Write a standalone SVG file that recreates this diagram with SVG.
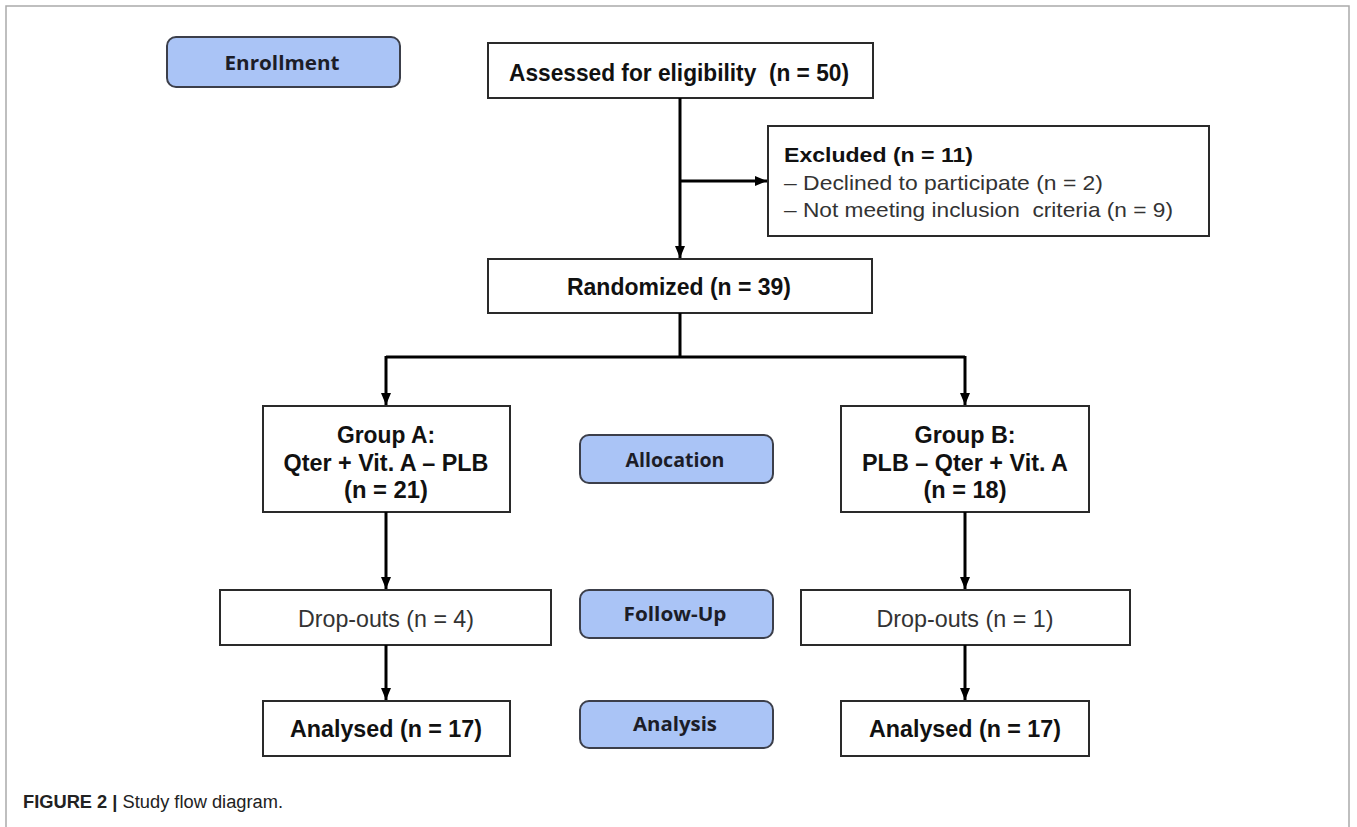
<svg xmlns="http://www.w3.org/2000/svg" width="1357" height="827" viewBox="0 0 1357 827">
<defs>
<style>
.box{fill:#fff;stroke:#2a2a2a;stroke-width:2}
.stage{fill:#aac4f6;stroke:#3c3f4a;stroke-width:2}
.t{font-family:"Liberation Sans",Arial,sans-serif;font-size:24px;fill:#111;text-anchor:middle}
.b{font-weight:bold}
.r{fill:#333}
.ex{font-size:21px;text-anchor:start}
.s{font-family:"Open Sans",Lato,"Liberation Sans",sans-serif;font-weight:bold;font-size:20px;fill:#1c1d28;text-anchor:middle}
.c{stroke:#000;stroke-width:3;fill:none}
</style>
<marker id="ah" viewBox="0 0 12 10" refX="12" refY="5" markerWidth="12" markerHeight="10" orient="auto" markerUnits="userSpaceOnUse">
<path d="M0,0 L12,5 L0,10 z" fill="#000"/>
</marker>
</defs>
<rect x="0" y="0" width="1357" height="827" fill="#fff"/>
<rect x="6" y="6" width="1343" height="840" fill="none" stroke="#aaa" stroke-width="1.5"/>

<g id="stage-enrollment"><rect class="stage" x="167" y="37" width="233" height="50" rx="9"/><text class="s" x="282" y="70" textLength="115" lengthAdjust="spacingAndGlyphs">Enrollment</text></g>
<g id="stage-allocation"><rect class="stage" x="580" y="435" width="193" height="48" rx="9"/><text class="s" x="675" y="467" textLength="99" lengthAdjust="spacingAndGlyphs">Allocation</text></g>
<g id="stage-followup"><rect class="stage" x="580" y="590" width="193" height="48" rx="9"/><text class="s" x="675" y="621" textLength="103" lengthAdjust="spacingAndGlyphs">Follow-Up</text></g>
<g id="stage-analysis"><rect class="stage" x="580" y="701" width="193" height="47" rx="9"/><text class="s" x="675" y="731" textLength="84" lengthAdjust="spacingAndGlyphs">Analysis</text></g>

<g id="assessed"><rect class="box" x="488" y="43" width="385" height="55"/><text class="t b" x="679" y="81" xml:space="preserve" textLength="340" lengthAdjust="spacingAndGlyphs">Assessed for eligibility  (n = 50)</text></g>
<g id="excluded"><rect class="box" x="768" y="126" width="441" height="110"/>
<text class="t b ex" x="784" y="162" textLength="189" lengthAdjust="spacingAndGlyphs">Excluded (n = 11)</text>
<text class="t r ex" x="784" y="190" textLength="319" lengthAdjust="spacingAndGlyphs">– Declined to participate (n = 2)</text>
<text class="t r ex" x="784" y="217" xml:space="preserve" textLength="389" lengthAdjust="spacingAndGlyphs">– Not meeting inclusion  criteria (n = 9)</text></g>
<g id="randomized"><rect class="box" x="488" y="259" width="384" height="54"/><text class="t b" x="679" y="295" textLength="224" lengthAdjust="spacingAndGlyphs">Randomized (n = 39)</text></g>
<g id="groupA"><rect class="box" x="263" y="406" width="247" height="106"/>
<text class="t b" x="386" y="443" textLength="98" lengthAdjust="spacingAndGlyphs">Group A:</text><text class="t b" x="386" y="471" textLength="205" lengthAdjust="spacingAndGlyphs">Qter + Vit. A – PLB</text><text class="t b" x="386" y="498" textLength="84" lengthAdjust="spacingAndGlyphs">(n = 21)</text></g>
<g id="groupB"><rect class="box" x="841" y="406" width="248" height="106"/>
<text class="t b" x="965" y="443" textLength="101" lengthAdjust="spacingAndGlyphs">Group B:</text><text class="t b" x="965" y="471" textLength="206" lengthAdjust="spacingAndGlyphs">PLB – Qter + Vit. A</text><text class="t b" x="965" y="498" textLength="83" lengthAdjust="spacingAndGlyphs">(n = 18)</text></g>
<g id="dropA"><rect class="box" x="220" y="590" width="331" height="55"/><text class="t r" x="386" y="627" textLength="176" lengthAdjust="spacingAndGlyphs">Drop-outs (n = 4)</text></g>
<g id="dropB"><rect class="box" x="801" y="590" width="329" height="55"/><text class="t r" x="965" y="627" textLength="177" lengthAdjust="spacingAndGlyphs">Drop-outs (n = 1)</text></g>
<g id="analysedA"><rect class="box" x="263" y="701" width="247" height="55"/><text class="t b" x="386" y="737" textLength="192" lengthAdjust="spacingAndGlyphs">Analysed (n = 17)</text></g>
<g id="analysedB"><rect class="box" x="841" y="701" width="248" height="55"/><text class="t b" x="965" y="737" textLength="192" lengthAdjust="spacingAndGlyphs">Analysed (n = 17)</text></g>

<g id="connectors">
<path class="c" d="M680,98 V258" marker-end="url(#ah)"/>
<path class="c" d="M680,181 H767" marker-end="url(#ah)"/>
<path class="c" d="M680,313 V357 M386,357 H965"/>
<path class="c" d="M386,356 V405" marker-end="url(#ah)"/>
<path class="c" d="M965,356 V405" marker-end="url(#ah)"/>
<path class="c" d="M386,512 V589" marker-end="url(#ah)"/>
<path class="c" d="M965,512 V589" marker-end="url(#ah)"/>
<path class="c" d="M386,645 V700" marker-end="url(#ah)"/>
<path class="c" d="M965,645 V700" marker-end="url(#ah)"/>
</g>

<text x="23" y="808" textLength="260" lengthAdjust="spacingAndGlyphs" style="font-family:'Liberation Sans',Arial,sans-serif;font-size:18px;fill:#222"><tspan font-weight="bold">FIGURE 2</tspan> <tspan font-weight="bold">|</tspan> Study flow diagram.</text>
</svg>
